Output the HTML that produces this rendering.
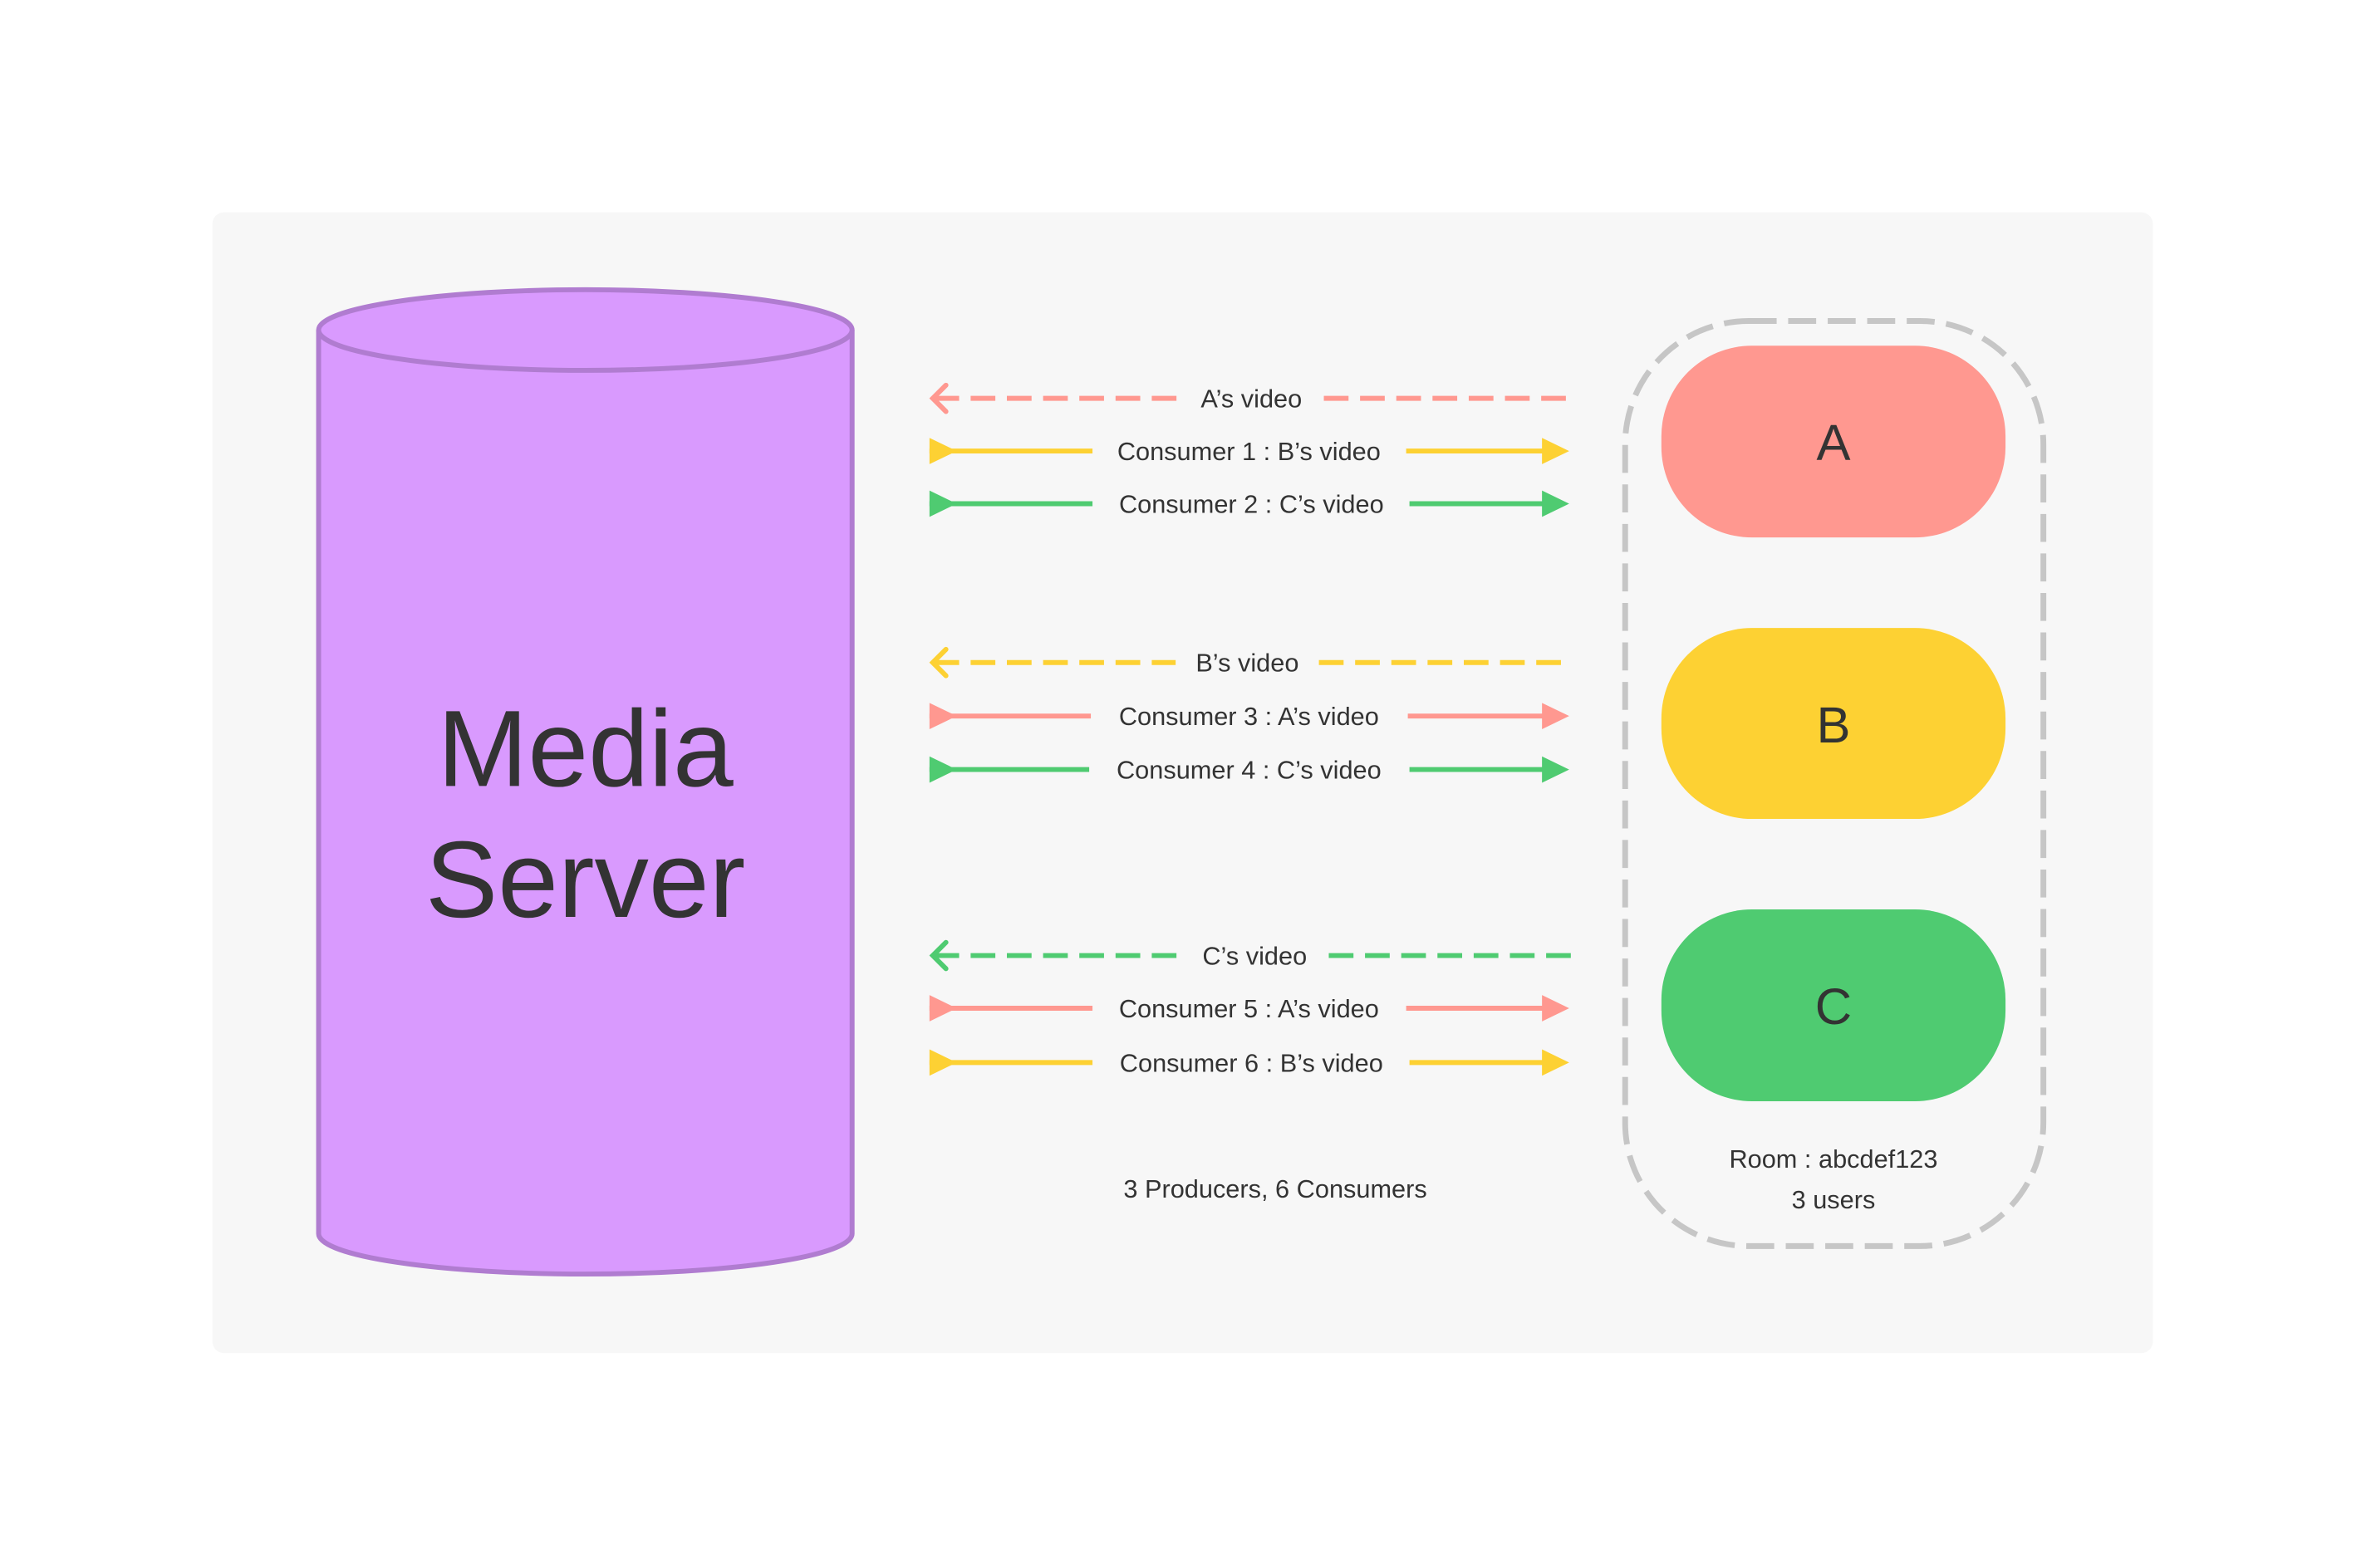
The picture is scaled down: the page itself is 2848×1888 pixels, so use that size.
<!DOCTYPE html>
<html><head><meta charset="utf-8"><style>
html,body{margin:0;padding:0;background:#fff;}
svg{display:block}
text{font-family:"Liberation Sans",sans-serif;fill:#333;}
</style></head><body>
<svg width="2848" height="1888" viewBox="0 0 2848 1888" xmlns="http://www.w3.org/2000/svg">
<g transform="scale(0.991)">
<rect x="258" y="258" width="2357" height="1386" rx="14" fill="#F7F7F7"/>
<!-- cylinder -->
<path d="M387 401 L387 1499 A324 49 0 0 0 1035 1499 L1035 401" fill="#D99AFE" stroke="#B07CD0" stroke-width="6"/>
<ellipse cx="711" cy="401" rx="324" ry="49" fill="#D99AFE" stroke="#B07CD0" stroke-width="6"/>
<text x="711" y="955" font-size="132" text-anchor="middle">Media</text>
<text x="711" y="1114" font-size="132" text-anchor="middle">Server</text>

<!-- room -->
<rect x="1974" y="390" width="508" height="1124" rx="150" fill="none" stroke="#C6C6C6" stroke-width="7" stroke-dasharray="34 14"/>
<rect x="2018" y="420" width="418" height="233" rx="110" fill="#FF9890"/>
<rect x="2018" y="763" width="418" height="232" rx="110" fill="#FDD133"/>
<rect x="2018" y="1105" width="418" height="233" rx="110" fill="#4FCB71"/>
<text x="2227" y="559" font-size="62" text-anchor="middle">A</text>
<text x="2227" y="902" font-size="62" text-anchor="middle">B</text>
<text x="2227" y="1244" font-size="62" text-anchor="middle">C</text>
<text x="2227" y="1419" font-size="31" text-anchor="middle">Room : abcdef123</text>
<text x="2227" y="1468" font-size="31" text-anchor="middle">3 users</text>
<text x="1549" y="1455" font-size="31" text-anchor="middle">3 Producers, 6 Consumers</text>

<g stroke-width="6" fill="none">
 <g stroke="#FF9890"><path d="M1135 484 H1432 M1608 484 H1908" stroke-dasharray="30 14"/><path d="M1149 468 L1133 484 L1149 500" stroke-linecap="round"/></g>
 <g stroke="#FDD133"><path d="M1135 805 H1428 M1602 805 H1908" stroke-dasharray="30 14"/><path d="M1149 789 L1133 805 L1149 821" stroke-linecap="round"/></g>
 <g stroke="#4FCB71"><path d="M1135 1161 H1436 M1614 1161 H1908" stroke-dasharray="30 14"/><path d="M1149 1145 L1133 1161 L1149 1177" stroke-linecap="round"/></g>
 <path d="M1129 548 H1327 M1708 548 H1880" stroke="#FDD133"/>
 <path d="M1129 612 H1327 M1712 612 H1880" stroke="#4FCB71"/>
 <path d="M1129 870 H1325 M1710 870 H1880" stroke="#FF9890"/>
 <path d="M1129 935 H1323 M1712 935 H1880" stroke="#4FCB71"/>
 <path d="M1129 1225 H1327 M1708 1225 H1880" stroke="#FF9890"/>
 <path d="M1129 1291 H1327 M1712 1291 H1880" stroke="#FDD133"/>
</g>
<g>
 <path d="M1129 532 L1162 548 L1129 564Z M1873 532 L1906 548 L1873 564Z" fill="#FDD133"/>
 <path d="M1129 596 L1162 612 L1129 628Z M1873 596 L1906 612 L1873 628Z" fill="#4FCB71"/>
 <path d="M1129 854 L1162 870 L1129 886Z M1873 854 L1906 870 L1873 886Z" fill="#FF9890"/>
 <path d="M1129 919 L1162 935 L1129 951Z M1873 919 L1906 935 L1873 951Z" fill="#4FCB71"/>
 <path d="M1129 1209 L1162 1225 L1129 1241Z M1873 1209 L1906 1225 L1873 1241Z" fill="#FF9890"/>
 <path d="M1129 1275 L1162 1291 L1129 1307Z M1873 1275 L1906 1291 L1873 1307Z" fill="#FDD133"/>
</g>
<g font-size="31" text-anchor="middle">
 <text x="1520" y="495">A’s video</text>
 <text x="1517" y="559">Consumer 1 : B’s video</text>
 <text x="1520" y="623">Consumer 2 : C’s video</text>
 <text x="1515" y="816">B’s video</text>
 <text x="1517" y="881">Consumer 3 : A’s video</text>
 <text x="1517" y="946">Consumer 4 : C’s video</text>
 <text x="1524" y="1172">C’s video</text>
 <text x="1517" y="1236">Consumer 5 : A’s video</text>
 <text x="1520" y="1302">Consumer 6 : B’s video</text>
</g>
</g>
</svg>
</body></html>
